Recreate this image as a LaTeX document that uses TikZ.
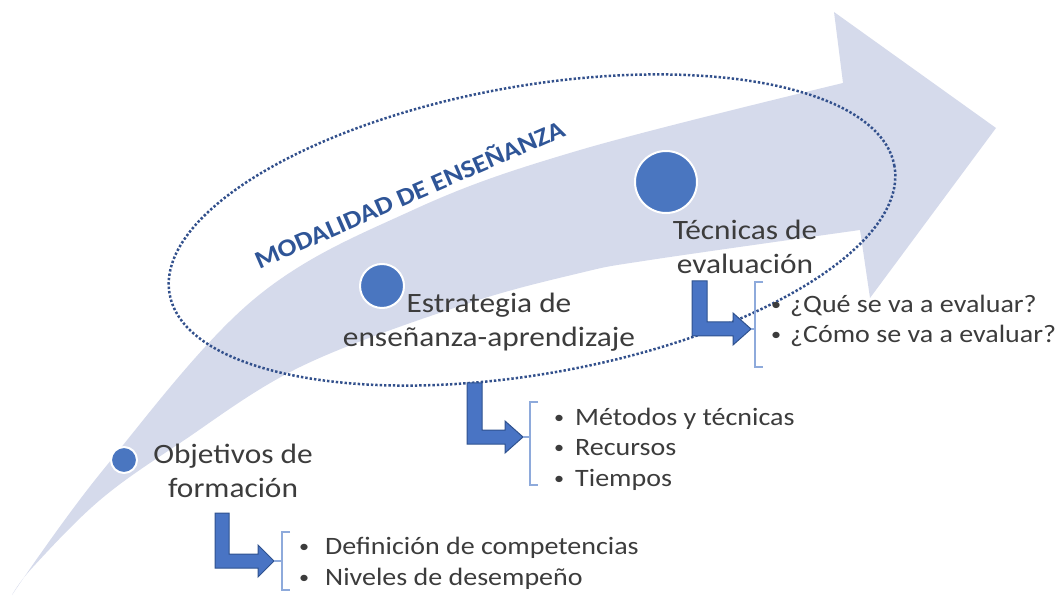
\documentclass[tikz,border=0pt]{standalone}
\usepackage{fontspec}
\setmainfont{Carlito}[FakeStretch=1.12]
\definecolor{bandc}{RGB}{213,218,235}
\definecolor{dotblue}{RGB}{74,118,192}
\definecolor{arrblue}{RGB}{73,116,196}
\definecolor{arrdark}{RGB}{47,82,143}
\definecolor{brkblue}{RGB}{142,170,219}
\definecolor{ringc}{RGB}{50,80,140}
\definecolor{titleblue}{RGB}{47,85,151}
\definecolor{txt}{RGB}{60,60,60}
\newcommand{\bul}[1]{\makebox[#1][l]{\raisebox{2pt}{\fontsize{18}{18}\selectfont •}}}
\begin{document}
\begin{tikzpicture}[x=1pt,y=1pt,
  lbl/.style={font=\fontsize{28}{34}\selectfont, text=txt, align=center, inner sep=0pt, anchor=base},
  lst/.style={font=\fontsize{25}{30.5}\selectfont, text=txt, align=left, inner sep=0pt, anchor=base west},
  dotc/.style={circle, fill=dotblue, draw=white, line width=2pt, inner sep=0pt},
  bent/.style={fill=arrblue, draw=arrdark, line width=1pt, line join=miter},
  brk/.style={draw=brkblue, line width=1.2pt},
  ring/.style={draw=ringc, line width=2.5pt, dash pattern=on 2.4pt off 2pt}]
\useasboundingbox (0,0) rectangle (1064,597);
% big curved arrow
\fill[bandc] plot[smooth, tension=0.6] coordinates {(12,2) (103,127) (253,297) (413,387) (580,447) (843,514)}
  -- (834,585) -- (996,469) -- (870,299)
  -- plot[smooth, tension=0.6] coordinates {(860,367) (650,337) (580,324) (463,292) (300,230) (180,154) (100,97) (33,30) (12,2)} -- cycle;
% dotted ellipse
\draw[ring, rotate around={10:(532,367)}] (532,367) ellipse [x radius=368, y radius=144];
% title
\node[font=\bfseries\fontsize{25}{30}\selectfont, text=titleblue, rotate=23.5] (mod) at (409,404) {MODALIDAD DE ENSEÑANZA};
% dots
\node[dotc, minimum size=26pt] (d1) at (124,137) {};
\node[dotc, minimum size=44pt] (d2) at (382,311) {};
\node[dotc, minimum size=62pt] (d3) at (666,415) {};
% labels (anchor base = last line)
\node[lbl] (l1) at (233,100) {Objetivos de\\formación};
\node[lbl] (l2) at (489,250) {Estrategia de\\enseñanza-aprendizaje};
\node[lbl] (l3) at (745,323) {Técnicas de\\evaluación};
% bent arrows
\draw[bent] (215,84) -- (229,84) -- (229,43) -- (258,43) -- (258,52) -- (274,36) -- (258,20) -- (258,29) -- (215,29) -- cycle;
\draw[bent] (467,214) -- (482,214) -- (482,167) -- (505,167) -- (505,176) -- (523,160) -- (505,144) -- (505,153) -- (467,153) -- cycle;
\draw[bent] (692,316) -- (707,316) -- (707,275) -- (733,275) -- (733,284) -- (751,268) -- (733,252) -- (733,261) -- (692,261) -- cycle;
% brackets
\coordinate (b1) at (282,36);
\draw[brk] (290,65) -- (282,65) -- (282,7) -- (290,7);
\draw[brk] (b1) -- (274,36);
\coordinate (b2) at (530,160);
\draw[brk] (538,195) -- (530,195) -- (530,112) -- (538,112);
\draw[brk] (b2) -- (523,160);
\coordinate (b3) at (755,268);
\draw[brk] (763,315) -- (755,315) -- (755,230) -- (763,230);
\draw[brk] (b3) -- (751,268);
% lists (anchor base = last line)
\node[lst] (t1) at (299,12) {\bul{26pt}Definición de competencias\\\bul{26pt}Niveles de desempeño};
\node[lst] (t2) at (554,111) {\bul{21pt}Métodos y técnicas\\\bul{21pt}Recursos\\\bul{21pt}Tiempos};
\node[lst] (t3) at (771,254) {\bul{19pt}¿Qué se va a evaluar?\\\bul{19pt}¿Cómo se va a evaluar?};
\end{tikzpicture}
\end{document}
